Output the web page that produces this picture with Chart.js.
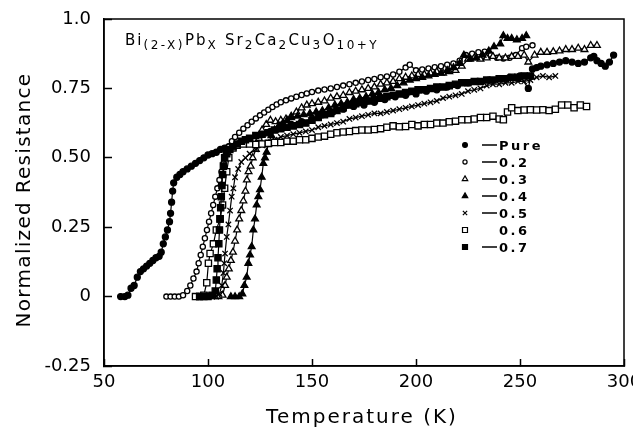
<!DOCTYPE html>
<html>
<head>
<meta charset="utf-8">
<script src="https://cdn.jsdelivr.net/npm/chart.js@4.4.1/dist/chart.umd.min.js"></script>
<style>
  html, body { margin: 0; padding: 0; background: #fff; }
  #wrap { width: 633px; height: 427px; }
</style>
</head>
<body>
<div id="wrap"><canvas id="resChart" width="633" height="427"></canvas></div>
<script>
// Normalized resistance vs temperature, Bi(2-x)Pb(x)Sr2Ca2Cu3O(10+y)

const FONT = "'DejaVu Sans', sans-serif";

const xTicks = [50, 100, 150, 200, 250, 300];
const yTicks = [-0.25, 0, 0.25, 0.5, 0.75, 1.0];
const yTickLabels = ["-0.25", "0", "0.25", "0.50", "0.75", "1.0"];

const seriesNames = ["Pure", "0.2", "0.3", "0.4", "0.5", "0.6", "0.7"];

const tPure = [58, 60, 61.5, 63, 64.5, 66, 67.5, 69, 70.5, 72, 73.5, 75, 76.5, 77.5, 78.5, 79.5, 80.5, 81.5, 82, 82.5,
  83, 83.5, 85, 86.5, 88, 90, 92, 94, 96, 98, 100, 102, 104, 106, 108, 110, 112, 115, 120, 125,
  130, 135, 140, 145, 150, 155, 160, 165, 170, 175, 180, 185, 190, 195, 200, 205, 210, 215, 220, 225,
  230, 235, 240, 245, 250, 254, 256, 258, 260, 263, 266, 269, 272, 275, 278, 281, 284, 285.5, 287, 289,
  291, 293, 295];
const rPure = [0, 0, 0.005, 0.03, 0.04, 0.07, 0.09, 0.1, 0.11, 0.12, 0.13, 0.14, 0.145, 0.16, 0.19, 0.215, 0.24, 0.27, 0.3, 0.34,
  0.38, 0.41, 0.43, 0.44, 0.45, 0.46, 0.47, 0.48, 0.49, 0.5, 0.51, 0.515, 0.52, 0.53, 0.535, 0.54, 0.545, 0.55, 0.565, 0.58,
  0.595, 0.61, 0.62, 0.63, 0.64, 0.655, 0.665, 0.675, 0.685, 0.69, 0.7, 0.71, 0.72, 0.725, 0.73, 0.74, 0.745, 0.755, 0.76, 0.77,
  0.775, 0.78, 0.785, 0.79, 0.795, 0.75, 0.82, 0.825, 0.83, 0.835, 0.84, 0.845, 0.85, 0.845, 0.84, 0.845, 0.86, 0.865, 0.85, 0.84,
  0.83, 0.845, 0.87];

const t02 = [80, 82, 84, 86, 88, 90, 91.5, 93, 94.5, 95.5, 96.5, 97.5, 98.5, 99.5, 100.5, 101.5, 102.5, 103.5, 104.5, 105.5,
  106.5, 107.5, 108.5, 110, 111.5, 113, 115, 117, 119, 121, 123, 125, 127, 129, 131, 133, 135, 137.5, 140, 142.5,
  145, 147.5, 150, 153, 156, 159, 162, 165, 168, 171, 174, 177, 180, 183, 186, 189, 192, 195, 197, 200,
  203, 206, 209, 212, 215, 218, 221, 224, 227, 230, 233, 236, 239, 242, 245, 248, 251, 253, 256];
const r02 = [0, 0, 0, 0, 0.005, 0.02, 0.04, 0.065, 0.09, 0.12, 0.15, 0.18, 0.21, 0.24, 0.27, 0.3, 0.33, 0.36, 0.39, 0.42,
  0.45, 0.48, 0.51, 0.54, 0.56, 0.575, 0.59, 0.605, 0.617, 0.63, 0.642, 0.653, 0.663, 0.673, 0.683, 0.692, 0.7, 0.707, 0.714, 0.72,
  0.726, 0.732, 0.737, 0.742, 0.746, 0.75, 0.755, 0.76, 0.765, 0.77, 0.775, 0.78, 0.784, 0.79, 0.793, 0.8, 0.81, 0.825, 0.835, 0.815,
  0.818, 0.822, 0.826, 0.83, 0.835, 0.84, 0.85, 0.87, 0.875, 0.88, 0.882, 0.87, 0.86, 0.858, 0.86, 0.87, 0.895, 0.9, 0.905];

const t03 = [100, 103, 105, 107, 108.2, 109, 110, 111, 112, 113, 114, 115, 116, 117, 118, 118.7, 119.5, 120.5, 121.5, 123,
  124.5, 126, 128, 130, 132.5, 135, 137.5, 140, 142.5, 145, 147.5, 150, 153, 156, 159, 162, 165, 168, 171, 174,
  177, 180, 183, 186, 189, 192, 195, 198, 201, 204, 207, 210, 213, 216, 219, 222, 225, 228, 231, 234,
  237, 240, 243, 246, 249, 252, 254, 257, 260, 263, 266, 269, 272, 275, 278, 281, 284, 287];
const r03 = [0, 0, 0, 0.005, 0.04, 0.07, 0.1, 0.13, 0.16, 0.2, 0.24, 0.28, 0.31, 0.345, 0.38, 0.42, 0.45, 0.47, 0.5, 0.53,
  0.57, 0.6, 0.62, 0.635, 0.63, 0.635, 0.64, 0.65, 0.665, 0.68, 0.69, 0.695, 0.7, 0.705, 0.715, 0.72, 0.725, 0.735, 0.74, 0.745,
  0.75, 0.755, 0.765, 0.77, 0.775, 0.785, 0.79, 0.795, 0.8, 0.8, 0.805, 0.81, 0.805, 0.81, 0.815, 0.83, 0.855, 0.86, 0.855, 0.86,
  0.865, 0.86, 0.86, 0.865, 0.865, 0.87, 0.845, 0.87, 0.88, 0.88, 0.882, 0.885, 0.89, 0.89, 0.895, 0.89, 0.905, 0.905];

const t04 = [111, 113, 115, 116.5, 117.5, 118.6, 119.4, 120.2, 121, 121.8, 122.6, 123.4, 124.2, 125, 125.8, 126.6, 127.4, 128.2, 129, 130.5,
  132, 134, 136, 138, 140, 143, 146, 149, 152, 155, 158, 161, 164, 167, 170, 173, 176, 179, 182, 185,
  188, 191, 194, 197, 200, 203, 206, 209, 212, 215, 218, 221, 223, 226, 229, 232, 235, 237.5, 240.5, 242,
  244, 246, 248.5, 251, 253];
const r04 = [0, 0, 0, 0.01, 0.04, 0.07, 0.12, 0.15, 0.18, 0.24, 0.28, 0.33, 0.36, 0.385, 0.43, 0.48, 0.5, 0.52, 0.55, 0.58,
  0.6, 0.615, 0.625, 0.635, 0.645, 0.65, 0.655, 0.66, 0.665, 0.67, 0.68, 0.69, 0.695, 0.7, 0.71, 0.715, 0.72, 0.73, 0.735, 0.745,
  0.75, 0.76, 0.77, 0.78, 0.785, 0.79, 0.795, 0.8, 0.805, 0.815, 0.825, 0.84, 0.87, 0.855, 0.86, 0.87, 0.885, 0.9, 0.91, 0.94,
  0.93, 0.93, 0.925, 0.93, 0.94];

const t05 = [100, 102, 104, 105.5, 106.6, 107.4, 107.8, 108.2, 109, 109.8, 110.6, 111.4, 112.2, 113, 114.5, 116, 118, 120, 123, 126,
  129, 132, 135, 138, 141, 144, 147, 150, 153, 156, 159, 162, 165, 168, 171, 174, 177, 180, 183, 186,
  189, 192, 195, 198, 201, 204, 207, 210, 213, 216, 219, 222, 225, 228, 231, 234, 237, 240, 243, 246,
  249, 252, 255, 258, 261, 264, 267];
const r05 = [0, 0, 0, 0.01, 0.04, 0.085, 0.12, 0.155, 0.215, 0.26, 0.31, 0.36, 0.39, 0.43, 0.46, 0.485, 0.5, 0.515, 0.53, 0.545,
  0.555, 0.565, 0.575, 0.58, 0.585, 0.59, 0.595, 0.6, 0.61, 0.615, 0.62, 0.625, 0.63, 0.64, 0.645, 0.65, 0.655, 0.66, 0.66, 0.665,
  0.67, 0.675, 0.68, 0.685, 0.69, 0.695, 0.7, 0.705, 0.715, 0.72, 0.725, 0.73, 0.74, 0.745, 0.75, 0.76, 0.765, 0.765, 0.77, 0.77,
  0.775, 0.775, 0.78, 0.79, 0.795, 0.79, 0.795];

const t06 = [94, 96, 98, 99.4, 100.2, 101, 102.6, 104, 105.8, 107, 108, 109, 110, 112, 114, 117, 120, 123, 126, 129,
  132, 135, 138, 141, 144, 147, 150, 153, 156, 159, 162, 165, 168, 171, 174, 177, 180, 183, 186, 189,
  192, 195, 198, 201, 204, 207, 210, 213, 216, 219, 222, 225, 228, 231, 234, 237, 240, 242, 244, 246,
  249, 252, 255, 258, 261, 264, 267, 270, 273, 276, 279, 282];
const r06 = [0, 0, 0.005, 0.05, 0.12, 0.155, 0.19, 0.24, 0.28, 0.33, 0.39, 0.45, 0.5, 0.535, 0.545, 0.55, 0.55, 0.548, 0.55, 0.552,
  0.555, 0.555, 0.56, 0.56, 0.565, 0.565, 0.57, 0.575, 0.578, 0.585, 0.59, 0.593, 0.595, 0.598, 0.6, 0.6, 0.602, 0.605, 0.61, 0.615,
  0.612, 0.613, 0.62, 0.615, 0.62, 0.62, 0.625, 0.625, 0.63, 0.632, 0.637, 0.637, 0.64, 0.645, 0.645, 0.65, 0.64, 0.637, 0.665, 0.68,
  0.67, 0.672, 0.673, 0.672, 0.673, 0.67, 0.675, 0.69, 0.69, 0.68, 0.69, 0.685];

const t07 = [96, 98, 100, 102, 103.5, 104, 104.4, 104.8, 105.2, 105.5, 105.8, 106.1, 106.4, 106.7, 107, 107.4, 108, 109, 110.5, 112,
  114, 116, 118, 120, 123, 126, 129, 132, 135, 138, 141, 144, 147, 150, 153, 156, 159, 162, 165, 168,
  171, 174, 177, 180, 183, 186, 189, 192, 195, 198, 201, 204, 207, 210, 213, 216, 219, 222, 225, 228,
  231, 234, 237, 240, 243, 246, 249, 252, 255];
const r07 = [0, 0, 0, 0.005, 0.02, 0.06, 0.1, 0.14, 0.19, 0.24, 0.28, 0.32, 0.36, 0.4, 0.44, 0.47, 0.5, 0.515, 0.53, 0.54,
  0.55, 0.56, 0.565, 0.57, 0.58, 0.585, 0.59, 0.6, 0.605, 0.61, 0.615, 0.62, 0.625, 0.635, 0.645, 0.655, 0.66, 0.67, 0.68, 0.69,
  0.695, 0.7, 0.705, 0.71, 0.715, 0.72, 0.725, 0.73, 0.735, 0.74, 0.745, 0.745, 0.75, 0.755, 0.755, 0.76, 0.765, 0.77, 0.77, 0.775,
  0.775, 0.78, 0.78, 0.785, 0.785, 0.79, 0.79, 0.795, 0.795];

const seriesT = [tPure, t02, t03, t04, t05, t06, t07];
const seriesR = [rPure, r02, r03, r04, r05, r06, r07];

// marker look per series: [pointStyle, radius, filled]
const markers = [
  ["circle", 3, true],
  ["circle", 2.6, false],
  ["triangle", 3.9, false],
  ["triangle", 3.9, true],
  ["crossRot", 3.8, false],
  ["rect", 4.4, false],
  ["rect", 4.4, true],
];

function toPoints(t, r) {
  return t.map((ti, i) => ({ x: ti, y: r[i] }));
}

function buildDatasets() {
  return seriesNames.map((name, i) => {
    const [style, radius, filled] = markers[i];
    return {
      label: name,
      data: toPoints(seriesT[i], seriesR[i]),
      showLine: true,
      borderColor: "#000",
      borderWidth: 1.2,
      pointStyle: style,
      pointRadius: radius,
      pointBorderWidth: 1.3,
      pointBorderColor: "#000",
      pointBackgroundColor: filled ? "#000" : "#fff",
      order: 7 - i,
    };
  });
}

function drawSpaced(ctx, text, x, y, font, spacing) {
  ctx.font = font;
  ctx.letterSpacing = spacing + "px";
  ctx.fillText(text, x, y);
  return ctx.measureText(text).width;
}

const decorPlugin = {
  id: "decor",
  afterDraw(chart) {
    const ctx = chart.ctx;
    const a = chart.chartArea;
    ctx.save();
    ctx.strokeStyle = "#000";
    ctx.lineWidth = 1.5;
    ctx.strokeRect(a.left, a.top, a.right - a.left, a.bottom - a.top);

    ctx.fillStyle = "#000";
    ctx.textBaseline = "alphabetic";
    ctx.textAlign = "left";

    // formula
    const pieces = [["Bi", 0], ["(2-X)", 1], ["Pb", 0], ["X", 1], [" Sr", 0], ["2", 1], ["Ca", 0], ["2", 1],
      ["Cu", 0], ["3", 1], ["O", 0], ["10+Y", 1]];
    let x = 125;
    pieces.forEach(([txt, sub]) => {
      if (sub) x += drawSpaced(ctx, txt, x, 49, "12px " + FONT, 2.5);
      else x += drawSpaced(ctx, txt, x, 45, "15px " + FONT, 2);
    });

    // legend
    const rowY = [145, 162, 179, 196, 213, 230, 247];
    seriesNames.forEach((name, i) => {
      const [style, radius, filled] = markers[i];
      const y = rowY[i];
      ctx.fillStyle = filled ? "#000" : "#fff";
      ctx.strokeStyle = "#000";
      ctx.lineWidth = 1.2;
      Chart.helpers.drawPoint(ctx, { pointStyle: style, radius: radius * 0.8, rotation: 0, borderWidth: 1.2 }, 465, y);
      ctx.fillStyle = "#000";
      if (name !== "0.6") {
        ctx.lineWidth = 1.5;
        ctx.beginPath();
        ctx.moveTo(482, y);
        ctx.lineTo(497, y);
        ctx.stroke();
      }
      drawSpaced(ctx, name, 499, y + 5, "bold 13px " + FONT, 2.5);
    });

    // axis titles
    ctx.textAlign = "center";
    drawSpaced(ctx, "Temperature (K)", 362, 423, "20px " + FONT, 2);
    ctx.translate(30, 200);
    ctx.rotate(-Math.PI / 2);
    drawSpaced(ctx, "Normalized Resistance", 0, 0, "20px " + FONT, 1.3);
    ctx.restore();
  },
};

document.addEventListener("DOMContentLoaded", () => {
  const ctx = document.getElementById("resChart").getContext("2d");
  Chart.defaults.color = "#000";
  Chart.defaults.font.family = FONT;

  new Chart(ctx, {
    type: "scatter",
    data: { datasets: buildDatasets() },
    options: {
      responsive: false,
      animation: false,
      devicePixelRatio: 1,
      layout: { padding: { top: 19, right: 9, left: 0, bottom: 0 } },
      plugins: { legend: { display: false }, tooltip: { enabled: false } },
      scales: {
        x: {
          type: "linear",
          min: 50,
          max: 300,
          afterBuildTicks: (s) => { s.ticks = xTicks.map((v) => ({ value: v })); },
          afterFit: (s) => { s.height = 61; s.paddingLeft = 0; s.paddingRight = 0; },
          ticks: { font: { size: 18 }, padding: 13, maxRotation: 0 },
          grid: { drawOnChartArea: false, tickLength: -7, tickWidth: 1.5, color: "#000" },
          border: { color: "#000", width: 1.5 },
        },
        y: {
          type: "linear",
          min: -0.25,
          max: 1.0,
          afterBuildTicks: (s) => { s.ticks = yTicks.map((v) => ({ value: v })); },
          afterFit: (s) => { s.width = 104; s.paddingTop = 0; s.paddingBottom = 0; },
          ticks: {
            font: { size: 18 },
            padding: 21,
            callback: (v) => yTickLabels[yTicks.indexOf(v)],
          },
          grid: { drawOnChartArea: false, tickLength: -8, tickWidth: 1.5, color: "#000" },
          border: { color: "#000", width: 1.5 },
        },
      },
    },
    plugins: [decorPlugin],
  });
});
</script>
</body>
</html>
